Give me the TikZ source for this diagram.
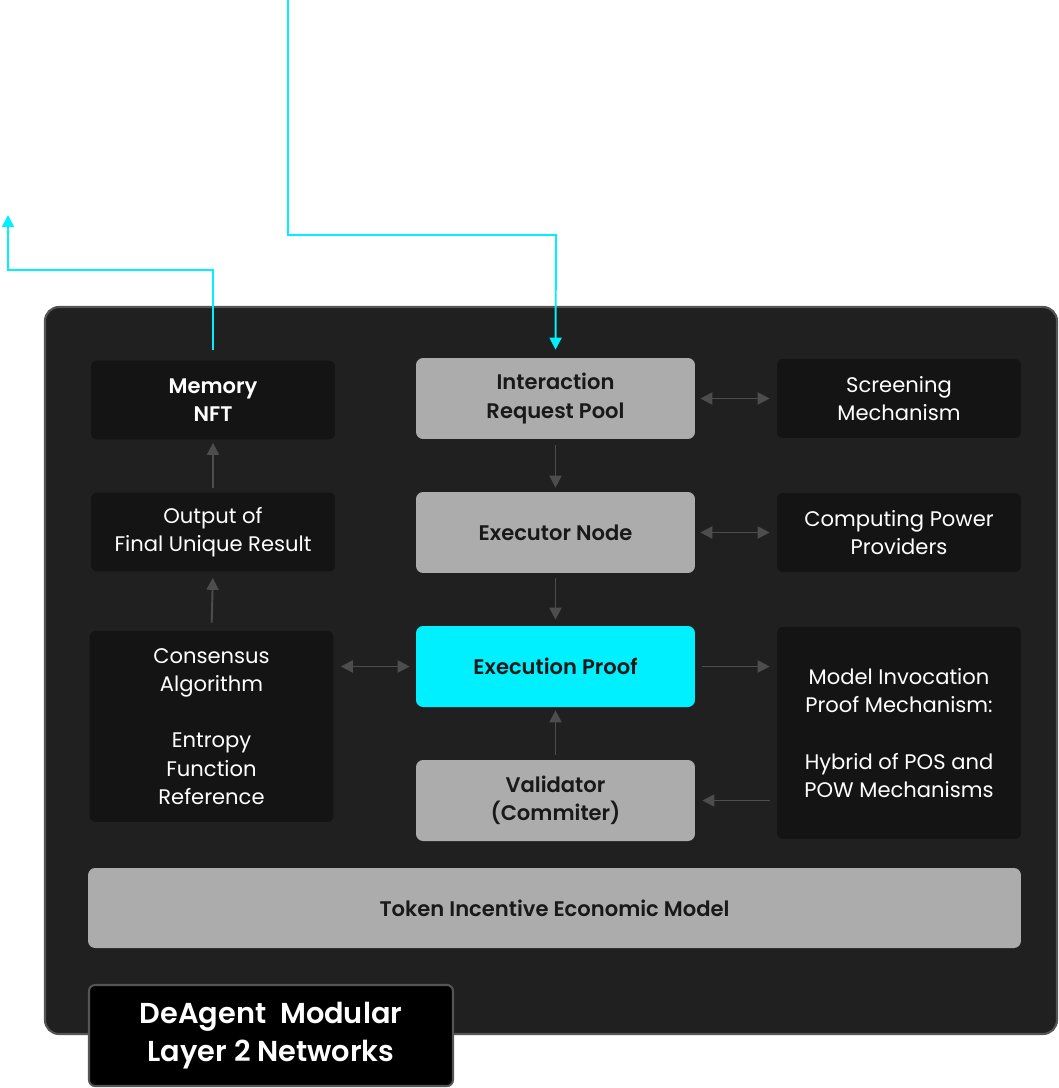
\documentclass[tikz,border=0pt]{standalone}
\usepackage{fontspec}
\setmainfont{Poppins}[BoldFont={Poppins SemiBold}]
\usetikzlibrary{arrows.meta}
\definecolor{panel}{HTML}{202020}
\definecolor{rim}{HTML}{555555}
\definecolor{darkbox}{HTML}{141414}
\definecolor{greybox}{HTML}{ACACAC}
\definecolor{aqua}{HTML}{00F0FF}
\definecolor{link}{HTML}{4D4D4D}

\begin{document}
\begin{tikzpicture}[x=0.02cm,y=-0.02cm,
  font=\fontsize{12}{16}\selectfont,
  dark/.style={fill=darkbox,rounded corners=0.12cm,text=white,align=center,minimum width=4.88cm,minimum height=1.58cm,inner sep=0pt},
  grey/.style={fill=greybox,rounded corners=0.14cm,text=black!90,font=\fontsize{12}{16}\selectfont\bfseries,align=center,minimum width=5.58cm,minimum height=1.62cm,inner sep=0pt},
  garrow/.style={draw=link,line width=1.1pt,-{Triangle[length=2.4mm,width=2.4mm]}},
  gboth/.style={garrow,{Triangle[length=2.4mm,width=2.4mm]}-{Triangle[length=2.4mm,width=2.4mm]}},
  carrow/.style={draw=aqua,line width=1.1pt,-{Triangle[length=2.4mm,width=2.4mm]}}]
\useasboundingbox (0,0) rectangle (1058,1088);
\draw[fill=panel,draw=rim,line width=1.2pt,rounded corners=0.28cm] (45,307) rectangle (1057,1034);

\node[dark,font=\fontsize{12}{16}\selectfont\bfseries] (mem) at (213,400) {Memory\\NFT};
\node[grey] (irp) at (555.5,398.5) {Interaction\\Request Pool};
\node[dark] (scr) at (899,398.5) {Screening\\Mechanism};
\node[dark] (out) at (213,532) {Output of\\Final Unique Result};
\node[grey] (exe) at (555.5,532.5) {Executor Node};
\node[dark] (cpp) at (899,532.5) {Computing Power\\Providers};
\node[dark,minimum height=3.82cm] (cons) at (211.5,726.5) {Consensus\\Algorithm\\[16pt]Entropy\\Function\\Reference};
\node[grey,fill=aqua] (proof) at (555.5,666.5) {Execution Proof};
\node[dark,minimum height=4.24cm] (model) at (899,733) {Model Invocation\\Proof Mechanism:\\[16pt]Hybrid of POS and\\POW Mechanisms};
\node[grey] (val) at (555.5,800.5) {Validator\\(Commiter)};
\node[grey,minimum width=18.66cm,minimum height=1.6cm] (token) at (554.5,908) {Token Incentive Economic Model};
\node[fill=black,draw=rim,line width=1.2pt,rounded corners=0.12cm,text=white,align=center,minimum width=7.28cm,minimum height=2.02cm,font=\fontsize{16.4}{21.5}\selectfont\bfseries] (layer) at (271,1035.5) {DeAgent\ \ Modular\\Layer 2 Networks};

\coordinate (src) at (288,0);
\coordinate (bend) at (556,235);
\coordinate (up) at (8,215);
\draw[carrow,shorten >=0.16cm] (src) |- (bend) -- (irp.north);
\draw[carrow,shorten <=0.2cm] (mem.north) |- (up |- 0,270) -- (up);

\draw[garrow,shorten <=0.08cm,shorten >=0.06cm] (out.north) -- (mem.south);
\draw[garrow,shorten <=0.16cm,shorten >=0.12cm] (cons.north) -- (out.south);
\draw[garrow,shorten <=0.12cm,shorten >=0.08cm] (irp.south) -- (exe.north);
\draw[garrow,shorten <=0.1cm,shorten >=0.12cm] (exe.south) -- (proof.north);
\draw[garrow,shorten <=0.1cm,shorten >=0.06cm] (val.north) -- (proof.south);
\draw[gboth,shorten <=0.1cm,shorten >=0.14cm] (irp.east) -- (scr.west);
\draw[gboth,shorten <=0.1cm,shorten >=0.14cm] (exe.east) -- (cpp.west);
\draw[gboth,shorten <=0.14cm,shorten >=0.12cm] (proof.west -| cons.east) -- (proof.west);
\draw[garrow,shorten <=0.14cm,shorten >=0.14cm] (proof.east) -- (proof.east -| model.west);
\draw[garrow,shorten <=0.14cm,shorten >=0.14cm] (val.east -| model.west) -- (val.east);
\end{tikzpicture}
\end{document}
